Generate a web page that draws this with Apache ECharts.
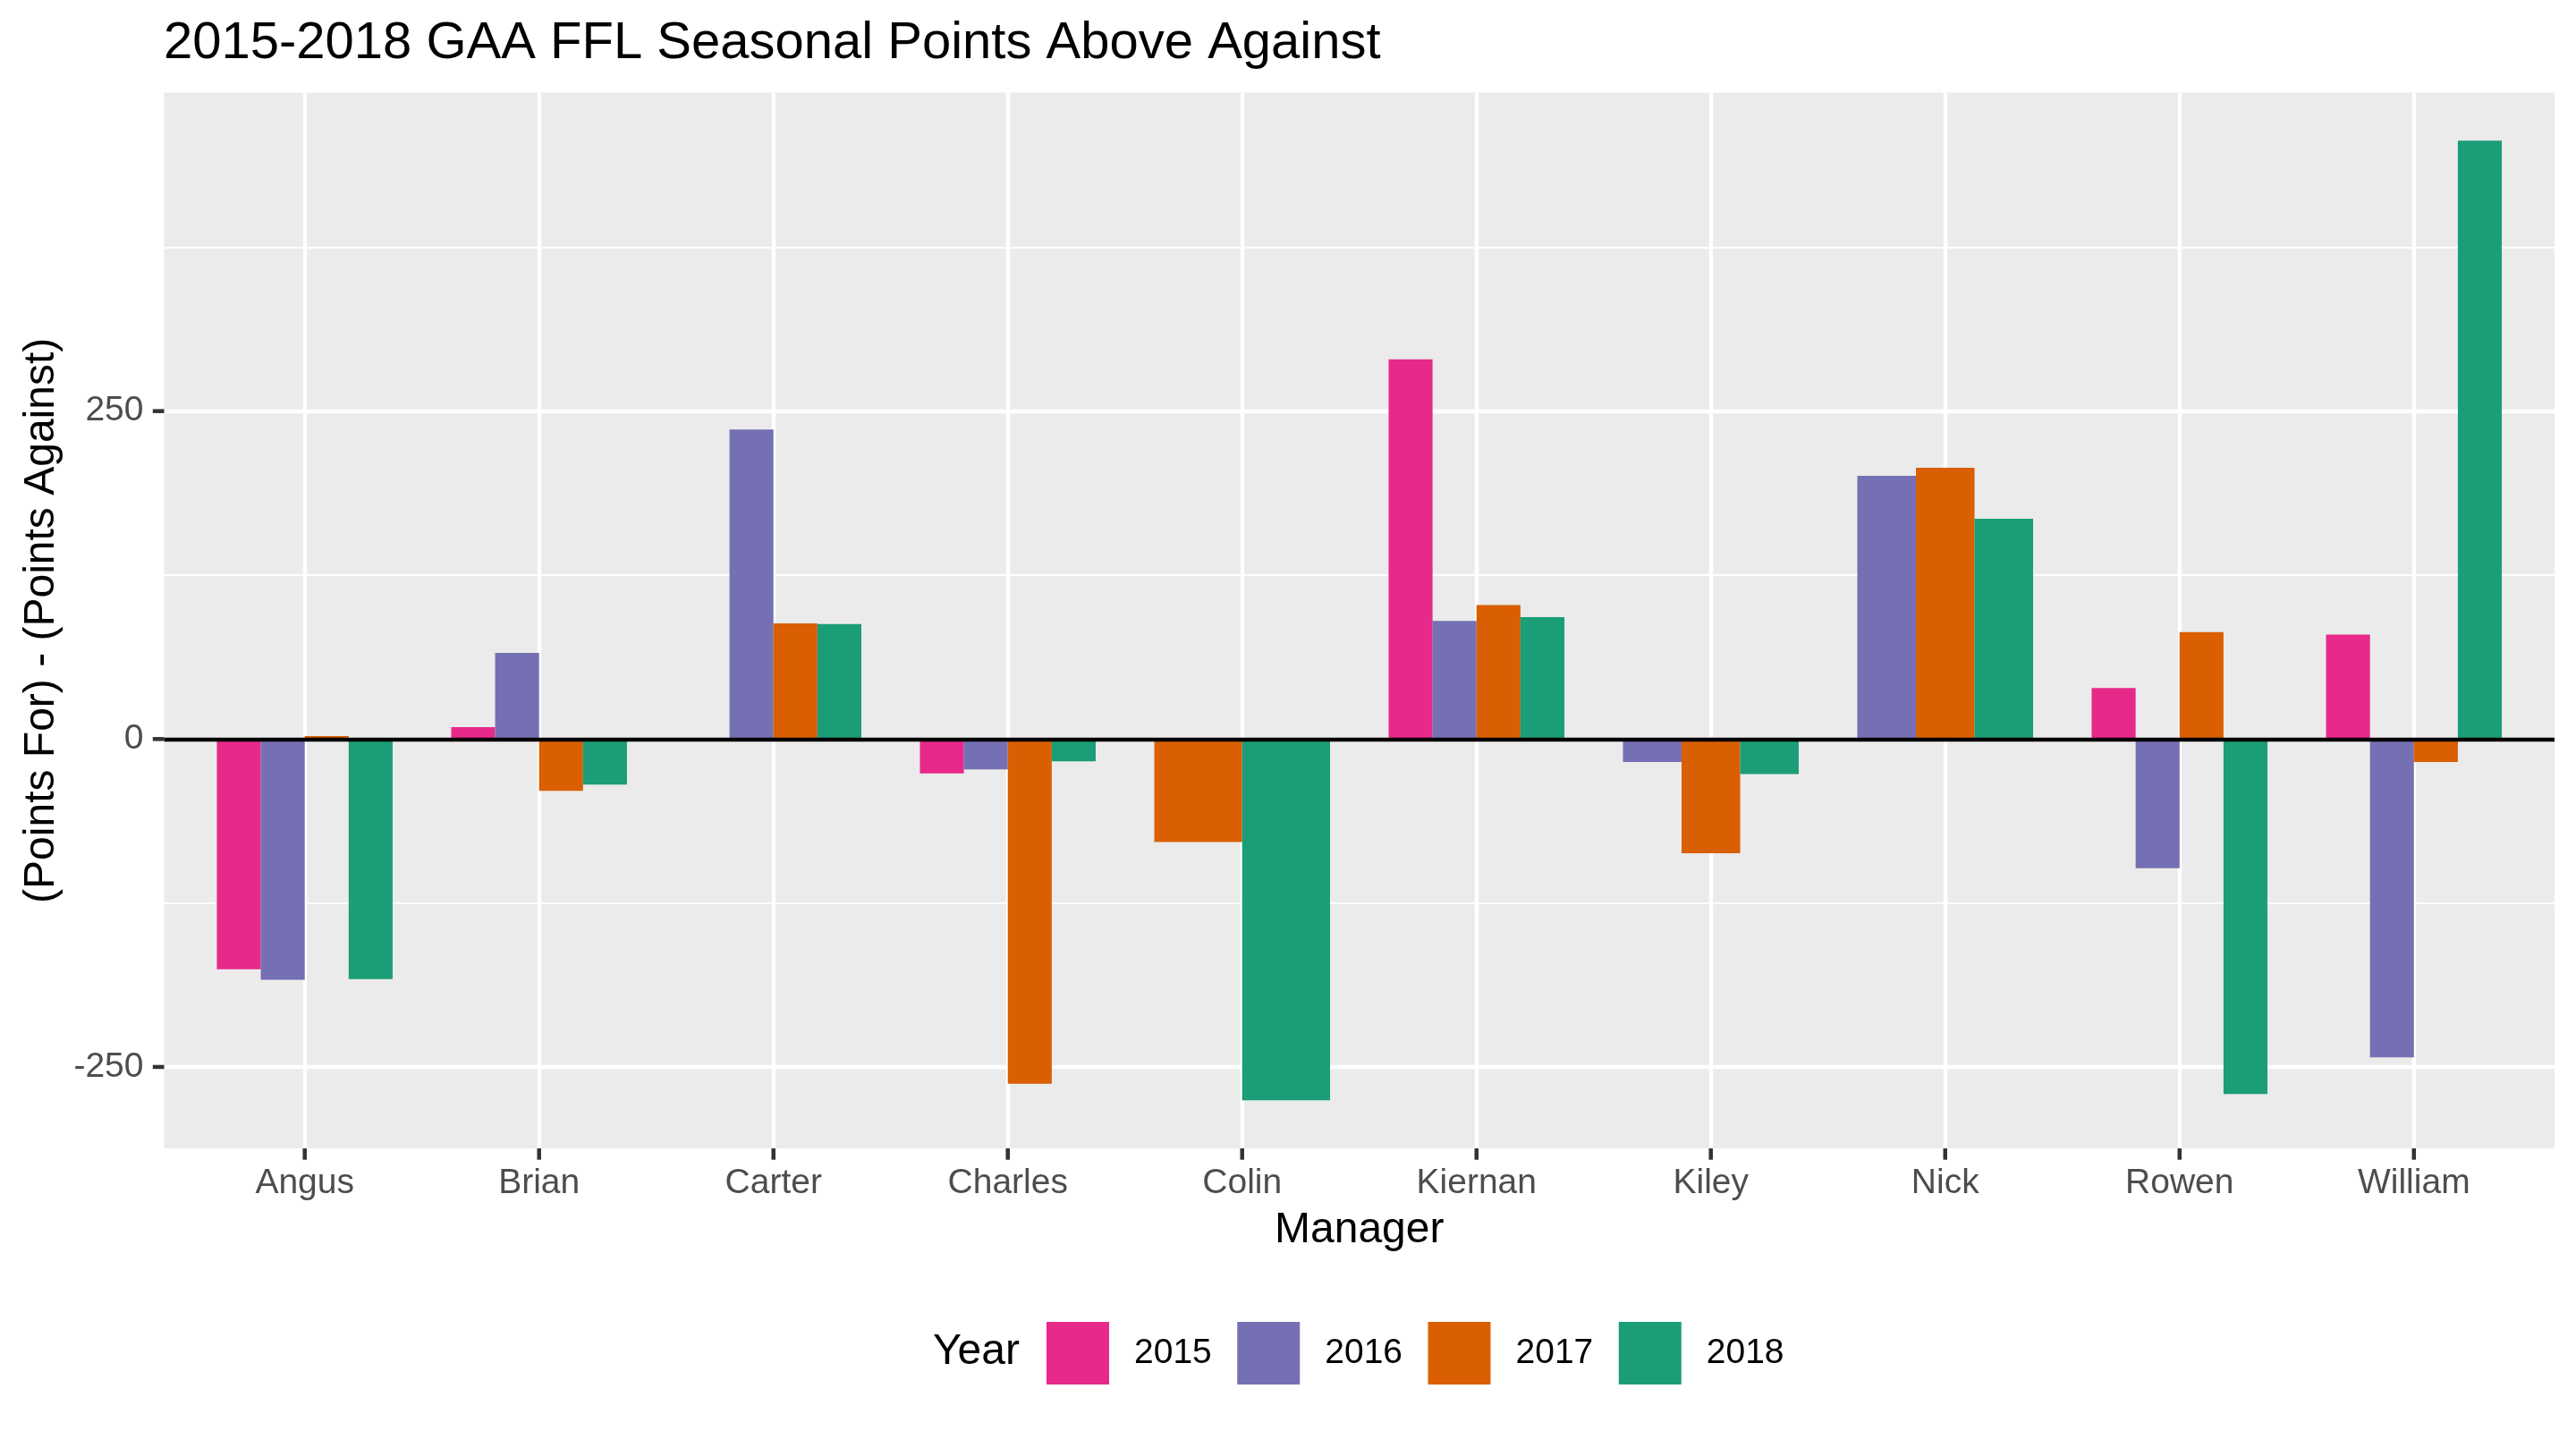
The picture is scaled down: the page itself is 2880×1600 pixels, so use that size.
<!DOCTYPE html>
<html>
<head>
<meta charset="utf-8">
<script src="https://cdn.jsdelivr.net/npm/echarts@6/dist/echarts.min.js"></script>
<style>
  html, body { margin: 0; padding: 0; background: #fff; }
  #main { width: 2880px; height: 1600px; }
</style>
</head>
<body>
<div id="main"></div>
<script>
// managers on the x axis
const managers = ['Angus', 'Brian', 'Carter', 'Charles', 'Colin', 'Kiernan', 'Kiley', 'Nick', 'Rowen', 'William'];
const years = ['2015', '2016', '2017', '2018'];
const yearColors = ['#E7298A', '#7570B3', '#D95F02', '#1B9E77'];

// (points for) - (points against), null = manager not in league that year
const pa2015 = [-175.5, 9, 0, -26.2, null, 289.5, null, null, 38.9, 79.7];
const pa2016 = [-183.5, 65.7, 236, -23.1, null, 90, -17.6, 200.7, -98.5, -242.7];
const pa2017 = [2.2, -39.5, 88.2, -262.8, -78.5, 102.2, -87, 206.8, 81.5, -17.6];
const pa2018 = [-183, -34.7, 87.6, -17, -275.5, 93, -26.8, 167.9, -270.7, 456.2];

const yMajor = [-250, 0, 250];
const yMinor = [-125, 125, 375];

const byYear = [pa2015, pa2016, pa2017, pa2018];

// dodge like ggplot: bars share the group width among the years present
function dodgeData(k) {
    let out = [];
    managers.forEach(function (m, i) {
        let present = [];
        byYear.forEach(function (arr, j) { if (arr[i] !== null) present.push(j); });
        let slot = present.indexOf(k);
        if (slot >= 0) out.push([i, byYear[k][i], slot, present.length]);
    });
    return out;
}

const groupWidth = 0.75;

function renderBar(params, api) {
    let i = api.value(0), v = api.value(1), slot = api.value(2), n = api.value(3);
    let w = groupWidth / n;
    let x0 = i - groupWidth / 2 + slot * w;
    let p1 = api.coord([x0, v]);
    let p2 = api.coord([x0 + w, 0]);
    return {
        type: 'rect',
        shape: {
            x: p1[0], y: Math.min(p1[1], p2[1]),
            width: p2[0] - p1[0], height: Math.abs(p2[1] - p1[1])
        },
        style: { fill: api.visual('color') }
    };
}

let all = [].concat(pa2015, pa2016, pa2017, pa2018).filter(function (v) { return v !== null; });
let lo = Math.min.apply(null, all), hi = Math.max.apply(null, all);
let pad = (hi - lo) * 0.05;
let xMin = -0.6, xMax = managers.length - 0.4;

// axis tick marks outside the panel (ggplot style)
const tickLen = 12.7;
const tickW = 4.5;
function renderTick(params, api) {
    let p = api.coord([api.value(0), api.value(1)]);
    let isY = api.value(2) === 1;
    let shape = isY
        ? { x: p[0] - tickLen, y: p[1] - tickW / 2, width: tickLen, height: tickW }
        : { x: p[0] - tickW / 2, y: p[1], width: tickW, height: tickLen };
    return { type: 'rect', shape: shape, style: { fill: '#333333' }, z2: 100 };
}
let tickData = managers.map(function (m, i) { return [i, lo - pad, 0]; })
    .concat(yMajor.map(function (v) { return [xMin, v, 1]; }));

let myChart = echarts.init(document.getElementById('main'));

let series = years.map(function (y, k) {
    let s = {
        name: y,
        type: 'custom',
        renderItem: renderBar,
        itemStyle: { color: yearColors[k] },
        encode: { x: 0, y: 1 },
        data: dodgeData(k),
        z: 2
    };
    // black zero line on top of the bars
    if (k === years.length - 1) {
        s.markLine = {
            silent: true,
            symbol: 'none',
            label: { show: false },
            lineStyle: { color: '#000', width: 4.4, type: 'solid' },
            data: [{ yAxis: 0 }]
        };
    }
    return s;
});
series.push({
    name: 'ticks',
    type: 'custom',
    silent: true,
    clip: false,
    renderItem: renderTick,
    data: tickData,
    encode: { x: 0, y: 1 },
    z: 10
});

let option = {
    animation: false,
    textStyle: { fontFamily: 'Liberation Sans' },
    title: [
        {
            text: '2015-2018 GAA FFL Seasonal Points Above Against',
            left: 183,
            top: 20,
            padding: 0,
            textStyle: { fontSize: 58, fontWeight: 'normal', color: '#000', fontFamily: 'Liberation Sans' }
        },
        {
            text: 'Year',
            left: 1043,
            top: 1488,
            padding: 0,
            textStyle: { fontSize: 48, fontWeight: 'normal', color: '#000', fontFamily: 'Liberation Sans' }
        }
    ],
    legend: {
        data: years,
        left: 1170,
        top: 1478,
        orient: 'horizontal',
        icon: 'rect',
        itemWidth: 70,
        itemHeight: 70,
        itemGap: 28.5,
        padding: 0,
        textStyle: { fontSize: 39, color: '#000', padding: [0, 0, 0, 23], fontFamily: 'Liberation Sans' }
    },
    grid: {
        left: 183.5,
        right: 24,
        top: 103.6,
        bottom: 316,
        show: true,
        backgroundColor: '#EBEBEB',
        borderWidth: 0
    },
    xAxis: {
        type: 'value',
        min: xMin,
        max: xMax,
        name: 'Manager',
        nameLocation: 'middle',
        nameGap: 68,
        nameTextStyle: { fontSize: 48, color: '#000' },
        axisLine: { show: false, onZero: false },
        axisTick: { show: false, customValues: managers.map(function (m, i) { return i; }) },
        axisLabel: {
            fontSize: 39,
            color: '#4D4D4D',
            margin: 20,
            customValues: managers.map(function (m, i) { return i; }),
            formatter: function (v) { return managers[Math.round(v)]; }
        },
        splitLine: { show: true, lineStyle: { color: '#fff', width: 4.4 } }
    },
    yAxis: [
        {
            type: 'value',
            min: lo - pad,
            max: hi + pad,
            name: '(Points For) - (Points Against)',
            nameLocation: 'middle',
            nameGap: 113,
            nameTextStyle: { fontSize: 48, color: '#000' },
            axisLine: { show: false, onZero: false },
            axisTick: { show: false, customValues: yMajor },
            axisLabel: { fontSize: 39, color: '#4D4D4D', margin: 23, customValues: yMajor },
            splitLine: { show: true, lineStyle: { color: '#fff', width: 4.4 } }
        },
        {
            type: 'value',
            min: lo - pad,
            max: hi + pad,
            position: 'left',
            axisLine: { show: false, onZero: false },
            axisTick: { show: false, customValues: yMinor },
            axisLabel: { show: false, customValues: yMinor },
            splitLine: { show: true, lineStyle: { color: '#fff', width: 2.2 } }
        }
    ],
    series: series
};

myChart.setOption(option);
</script>
</body>
</html>
